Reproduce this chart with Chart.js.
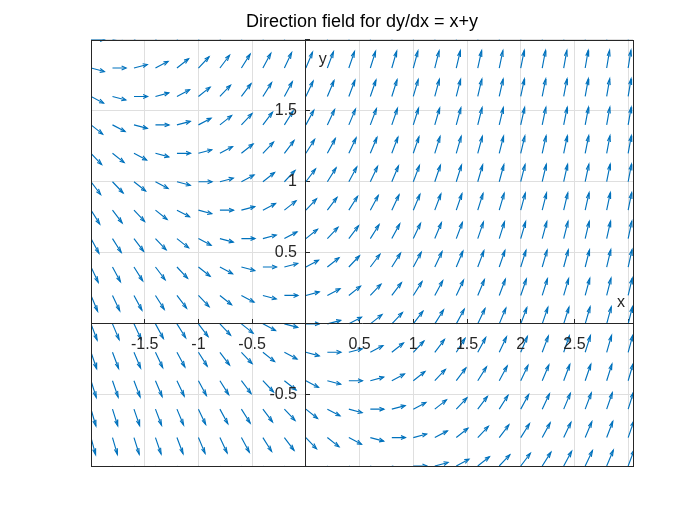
<!DOCTYPE html>
<html>
<head>
<meta charset="utf-8">
<script src="https://cdn.jsdelivr.net/npm/chart.js@4/dist/chart.umd.min.js"></script>
<style>
  html, body { margin: 0; background: #fff; }
  #wrap { width: 700px; height: 525px; }
</style>
</head>
<body>
<div id="wrap"><canvas id="c"></canvas></div>
<script>
// grid of arrow tails
const xs = [-2, -1.8, -1.6, -1.4, -1.2, -1, -0.8, -0.6, -0.4, -0.2, 0, 0.2, 0.4, 0.6, 0.8,
            1, 1.2, 1.4, 1.6, 1.8, 2, 2.2, 2.4, 2.6, 2.8, 3];
const ys = [-1, -0.8, -0.6, -0.4, -0.2, 0, 0.2, 0.4, 0.6, 0.8, 1, 1.2, 1.4, 1.6, 1.8, 2];

const xTicks = [-2, -1.5, -1, -0.5, 0, 0.5, 1, 1.5, 2, 2.5, 3];
const xTickLabels = ["", "-1.5", "-1", "-0.5", "", "0.5", "1", "1.5", "2", "2.5", ""];
const yTicks = [-1, -0.5, 0, 0.5, 1, 1.5, 2];
const yTickLabels = ["", "-0.5", "", "0.5", "1", "1.5", ""];

// dy/dx = x + y (the equation in the title)
const slope = (x, y) => x + y;

const BLUE = "#0072BD";
const INK = "#262626";
const FONT = "'Liberation Sans', Arial, Helvetica, sans-serif";
const LEN = 0.127;             // arrow length, data units
const HEAD_A = 0.33, HEAD_B = 0.33;

const shafts = [], heads = [];
for (const y of ys) {
  for (const x of xs) {
    const s = slope(x, y), n = Math.hypot(1, s);
    const u = LEN / n, v = LEN * s / n;
    const tx = x + u, ty = y + v;
    shafts.push({ x, y }, { x: tx, y: ty }, { x: tx, y: null });
    heads.push(
      { x: tx - HEAD_A * (u + HEAD_B * v), y: ty - HEAD_A * (v - HEAD_B * u) },
      { x: tx, y: ty },
      { x: tx - HEAD_A * (u - HEAD_B * v), y: ty - HEAD_A * (v + HEAD_B * u) },
      { x: tx, y: null }
    );
  }
}

const lineSet = (data) => ({
  data, showLine: true, spanGaps: false, borderColor: BLUE, borderWidth: 1.15,
  pointRadius: 0, pointHoverRadius: 0, fill: false,
});

const frame = {
  id: "frame",
  afterDraw(chart) {
    const { ctx, chartArea: a, scales } = chart;
    ctx.save();
    ctx.strokeStyle = INK;
    ctx.lineWidth = 1;
    ctx.strokeRect(Math.round(a.left) + 0.5, Math.round(a.top) + 0.5,
      Math.round(a.right - a.left), Math.round(a.bottom - a.top));
    ctx.fillStyle = INK;
    ctx.font = `16px ${FONT}`;
    ctx.textAlign = "center";
    ctx.textBaseline = "middle";
    ctx.fillText("x", a.right - 12, scales.y.getPixelForValue(0) - 21);
    ctx.fillText("y", scales.x.getPixelForValue(0) + 17, a.top + 20);
    ctx.restore();
  },
};

new Chart(document.getElementById("c"), {
  type: "scatter",
  data: { datasets: [lineSet(shafts), lineSet(heads)] },
  options: {
    responsive: true,
    maintainAspectRatio: false,
    animation: false,
    events: [],
    layout: { padding: { left: 91, right: 67, top: 0, bottom: 59 } },
    plugins: {
      legend: { display: false },
      tooltip: { enabled: false },
      title: {
        display: true,
        text: "Direction field for dy/dx = x+y",
        color: "#000",
        font: { family: FONT, size: 18, weight: "normal" },
        padding: { top: 11, bottom: 7 },
      },
    },
    scales: {
      x: {
        type: "linear", min: -2, max: 3.045, position: { y: 0 },
        afterBuildTicks: (s) => { s.ticks = xTicks.map((value) => ({ value })); },
        grid: { color: "#dfdfdf", tickColor: INK, tickLength: -5 },
        border: { color: INK, width: 1, z: 1 },
        ticks: {
          z: 1, color: INK, padding: 16, maxRotation: 0, autoSkip: false,
          font: { family: FONT, size: 16 },
          callback: (v, i) => xTickLabels[i],
        },
      },
      y: {
        type: "linear", min: -1, max: 2, position: { x: 0 },
        afterBuildTicks: (s) => { s.ticks = yTicks.map((value) => ({ value })); },
        grid: { color: "#dfdfdf", tickColor: INK, tickLength: -5 },
        border: { color: INK, width: 1, z: 1 },
        ticks: {
          z: 1, color: INK, autoSkip: false,
          font: { family: FONT, size: 16 },
          callback: (v, i) => yTickLabels[i] ? yTickLabels[i] + "  " : "",
        },
      },
    },
  },
  plugins: [frame],
});
</script>
</body>
</html>
